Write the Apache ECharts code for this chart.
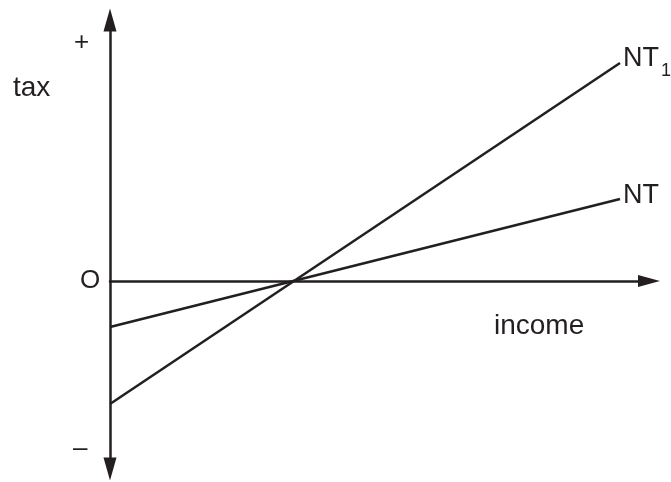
<!DOCTYPE html>
<html>
<head>
<meta charset="utf-8">
<script src="https://cdn.jsdelivr.net/npm/echarts@6/dist/echarts.min.js"></script>
<style>
  html, body { margin: 0; padding: 0; background: #fff; }
  #chart { width: 671px; height: 482px; }
</style>
</head>
<body>
<div id="chart"></div>
<script>
    // schematic values (income units, tax units)
    const incomePoints = [0, 510];
    const ntValues = [-46, 82];
    const nt1Values = [-123, 218];
    const lineNames = ["NT", "NT1"];

    const ink = "#231f20";
    const font = "Liberation Sans, Arial, sans-serif";

    function lineData(values) {
        return incomePoints.map((x, i) => [x, values[i]]);
    }

    const chart = echarts.init(document.getElementById("chart"));
    const option = {
        animation: false,
        grid: { left: 110, right: 22, top: 20, bottom: 13 },
        xAxis: {
            type: "value",
            min: 0,
            max: 539,
            axisLine: {
                onZero: true,
                symbol: ["none", "triangle"],
                symbolSize: [12, 22],
                lineStyle: { color: ink, width: 2.5 }
            },
            axisTick: { show: false },
            axisLabel: { show: false },
            splitLine: { show: false }
        },
        yAxis: {
            type: "value",
            min: -188,
            max: 261,
            axisLine: {
                onZero: true,
                symbol: ["triangle", "triangle"],
                symbolSize: [13, 23],
                lineStyle: { color: ink, width: 2.5 }
            },
            axisTick: { show: false },
            axisLabel: { show: false },
            splitLine: { show: false }
        },
        graphic: [
            { type: "text", left: 74, top: 30, style: { text: "+", font: "26px " + font, fill: ink } },
            { type: "text", left: 13, top: 74, style: { text: "tax", font: "28px " + font, fill: ink } },
            { type: "text", left: 80, top: 268, style: { text: "O", font: "26px " + font, fill: ink } },
            { type: "text", left: 494, top: 312, style: { text: "income", font: "28px " + font, fill: ink } },
            { type: "text", left: 73, top: 436, style: { text: "\u2013", font: "26px " + font, fill: ink } }
        ],
        series: [
            {
                name: lineNames[0],
                type: "line",
                symbol: "none",
                lineStyle: { color: ink, width: 2.5 },
                endLabel: {
                    show: true,
                    distance: 3,
                    offset: [0, -3],
                    formatter: "NT",
                    color: ink,
                    fontSize: 27,
                    fontFamily: font
                },
                data: lineData(ntValues)
            },
            {
                name: lineNames[1],
                type: "line",
                symbol: "none",
                lineStyle: { color: ink, width: 2.5 },
                endLabel: {
                    show: true,
                    distance: 3,
                    offset: [0, -4],
                    formatter: "{a|NT}{b|1}",
                    rich: {
                        a: { color: ink, fontSize: 27, fontFamily: font },
                        b: { color: ink, fontSize: 18, fontFamily: font, padding: [24, 0, 0, 2] }
                    }
                },
                data: lineData(nt1Values)
            }
        ]
    };
    chart.setOption(option);
</script>
</body>
</html>
